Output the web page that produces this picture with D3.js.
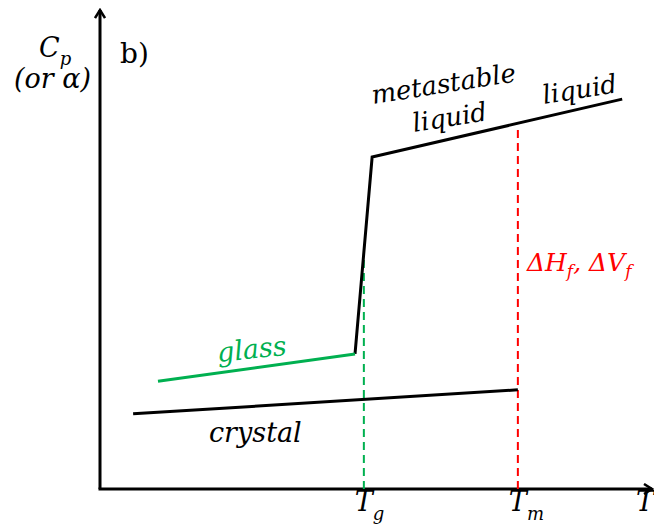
<!DOCTYPE html>
<html>
<head>
<meta charset="utf-8">
<script src="https://cdn.jsdelivr.net/npm/d3@7"></script>
<style>
  html, body { margin: 0; padding: 0; background: #fff; }
</style>
</head>
<body>
<div id="chart"></div>
<script>
/* schematic units: temperature (x) and Cp (y), both 0..100 */
var glassPts      = [[10.5, 22.5], [46.2, 28.2]];
var liquidPts     = [[46.2, 28.2], [49.3, 69.3], [94.6, 81.4]];
var crystalPts    = [[6.0, 15.7], [75.7, 20.7]];
var tgLine        = [[47.8, 0], [47.8, 48.0]];
var tmLine        = [[75.7, 0], [75.7, 76.0]];
var tickNames     = ['T', 'T'];
var tickSubs      = ['g', 'm'];
var tickValues    = [47.8, 75.7];

var FONT = '"DejaVu Serif", serif';
var W = 654, H = 531;
var x = d3.scaleLinear().domain([0, 100]).range([100, 652]);
var y = d3.scaleLinear().domain([0, 100]).range([489, 10]);

var svg = d3.select('#chart').append('svg')
  .attr('width', W).attr('height', H)
  .attr('font-family', FONT);

var line = d3.line()
  .x(function (d) { return x(d[0]); })
  .y(function (d) { return y(d[1]); });

/* open chevron arrow heads */
var defs = svg.append('defs');
defs.append('marker')
  .attr('id', 'arr')
  .attr('viewBox', '0 0 12 12')
  .attr('refX', 10).attr('refY', 6)
  .attr('markerWidth', 12).attr('markerHeight', 12)
  .attr('markerUnits', 'userSpaceOnUse')
  .attr('orient', 'auto')
  .append('path')
  .attr('d', 'M2,1 L10,6 L2,11')
  .attr('fill', 'none')
  .attr('stroke', '#000')
  .attr('stroke-width', 2.5);

/* axes */
svg.append('line')
  .attr('x1', x(0)).attr('y1', y(0))
  .attr('x2', x(0)).attr('y2', y(100))
  .attr('stroke', '#000').attr('stroke-width', 3)
  .attr('marker-end', 'url(#arr)');
svg.append('line')
  .attr('x1', x(0) - 1.5).attr('y1', y(0))
  .attr('x2', x(100)).attr('y2', y(0))
  .attr('stroke', '#000').attr('stroke-width', 3)
  .attr('marker-end', 'url(#arr)');

/* dashed guides */
svg.append('path').datum(tgLine)
  .attr('d', line)
  .attr('fill', 'none').attr('stroke', '#00b050')
  .attr('stroke-width', 2).attr('stroke-dasharray', '8,5');
svg.append('path').datum(tmLine)
  .attr('d', line)
  .attr('fill', 'none').attr('stroke', '#ff0000')
  .attr('stroke-width', 2).attr('stroke-dasharray', '8,5');

/* curves */
svg.append('path').datum(crystalPts)
  .attr('d', line)
  .attr('fill', 'none').attr('stroke', '#000').attr('stroke-width', 3);
svg.append('path').datum(liquidPts)
  .attr('d', line)
  .attr('fill', 'none').attr('stroke', '#000').attr('stroke-width', 3)
  .attr('stroke-linejoin', 'miter');
svg.append('path').datum(glassPts)
  .attr('d', line)
  .attr('fill', 'none').attr('stroke', '#00b050').attr('stroke-width', 3);

/* labels */
function label(txt, px, py, size, rot, color) {
  return svg.append('text')
    .attr('transform', 'translate(' + px + ',' + py + ') rotate(' + rot + ')')
    .attr('font-size', size)
    .attr('font-style', 'italic')
    .attr('fill', color || '#000')
    .text(txt);
}

label('metastable', 373, 104, 26, -9);
label('liquid', 414, 132, 26, -9);
label('liquid', 544, 104, 26, -9);
label('glass', 218, 362, 27, -6, '#00b050');
label('crystal', 209, 442, 27, 0);

/* ΔH_f, ΔV_f */
var dh = svg.append('text')
  .attr('x', 527).attr('y', 271)
  .attr('font-size', 25).attr('font-style', 'italic')
  .attr('fill', '#ff0000');
dh.append('tspan').text('ΔH');
dh.append('tspan').attr('dy', 6).attr('font-size', 17).text('f');
dh.append('tspan').attr('dy', -6).text(', ΔV');
dh.append('tspan').attr('dy', 6).attr('font-size', 17).text('f');

/* y label */
var cp = svg.append('text')
  .attr('x', 39).attr('y', 57)
  .attr('font-size', 27).attr('font-style', 'italic');
cp.append('tspan').text('C');
cp.append('tspan').attr('dy', 8).attr('font-size', 18).text('p');
label('(or α)', 14, 88, 27, 0);

svg.append('text')
  .attr('x', 120).attr('y', 63)
  .attr('font-size', 28)
  .text('b)');

/* temperature ticks */
tickValues.forEach(function (v, i) {
  var t = svg.append('text')
    .attr('x', x(v) - 9).attr('y', 511)
    .attr('font-size', 27).attr('font-style', 'italic');
  t.append('tspan').text(tickNames[i]);
  t.append('tspan').attr('dy', 9).attr('font-size', 18).text(tickSubs[i]);
});
label('T', 636, 511, 27, 0);
</script>
</body>
</html>
